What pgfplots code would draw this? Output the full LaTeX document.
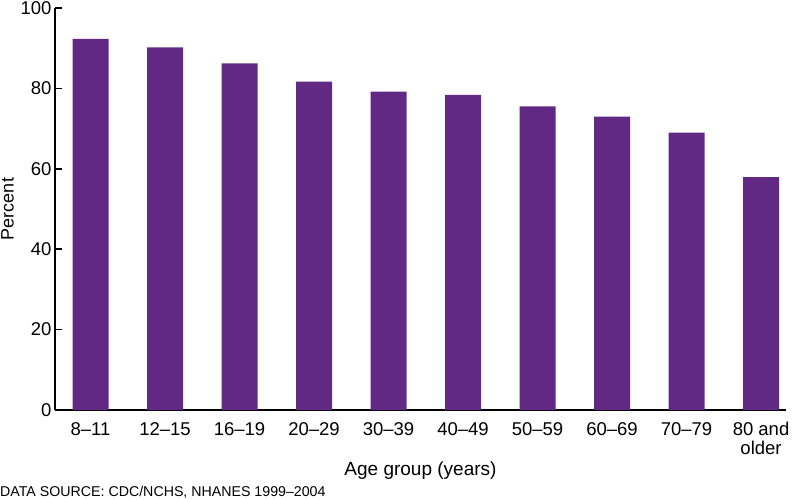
\documentclass[border=0pt]{standalone}
\usepackage{pgfplots}
\pgfplotsset{compat=1.18}
\usepackage{fontspec}
\setmainfont{Liberation Sans}
\definecolor{barpurple}{RGB}{98,41,132}
\begin{document}
\begin{tikzpicture}
\useasboundingbox (-55bp,-90bp) rectangle (745bp,410bp);
\begin{axis}[
  at={(0,0)}, anchor=south west,
  scale only axis,
  width=731bp, height=402bp,
  xmin=-0.477, xmax=9.335,
  ymin=0, ymax=100,
  axis x line=bottom, axis y line=left,
  axis line style={-, line width=1.8pt, black},
  ytick={0,20,40,60,80,100},
  ytick pos=left,
  tick align=inside,
  major tick length=7bp,
  ytick style={line width=1.5pt, black},
  xtick={0,...,9},
  xtick style={draw=none},
  xticklabels={8--11,12--15,16--19,20--29,30--39,40--49,50--59,60--69,70--79,{80 and\\older}},
  xticklabel style={align=center, font=\fontsize{18.5bp}{18.5bp}\selectfont, yshift=-2bp},
  yticklabel style={font=\fontsize{18.5bp}{18.5bp}\selectfont, xshift=0bp},
  /pgf/number format/assume math mode=true,
  ylabel={Percent},
  ylabel style={font=\fontsize{18bp}{20bp}\selectfont},
  xlabel={Age group (years)},
  xlabel style={font=\fontsize{19bp}{21bp}\selectfont},
  ybar, bar width=36bp,
  clip=false,
]
\addplot[fill=barpurple, draw=none] coordinates {
(0,92.3) (1,90.2) (2,86.2) (3,81.7) (4,79.2) (5,78.4) (6,75.5) (7,73.0) (8,69.0) (9,57.9)
};
\end{axis}
\node[anchor=base west, inner sep=0pt, font=\fontsize{14.2bp}{16bp}\selectfont] at (-55bp,-86.5bp) {DATA SOURCE: CDC/NCHS, NHANES 1999--2004};
\end{tikzpicture}
\end{document}
